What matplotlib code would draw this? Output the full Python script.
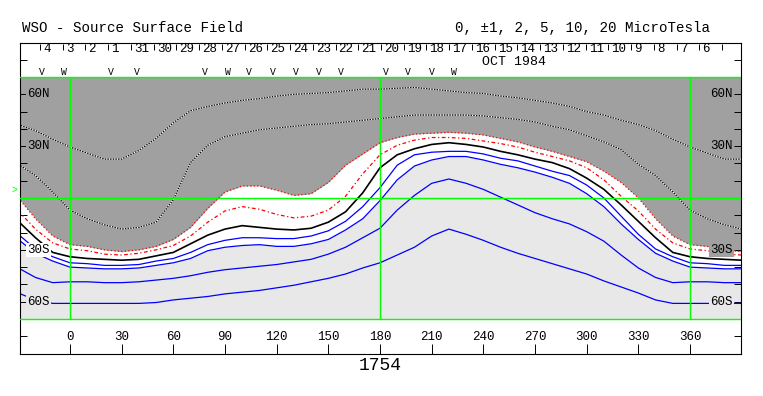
import numpy as np
import matplotlib.pyplot as plt

plt.rcParams['font.family'] = ['Liberation Mono', 'DejaVu Sans Mono']

# Carrington longitude samples (deg)
lon = np.arange(0, 360, 10)

lat_m10 = [29.5, 26, 22.5, 22.5, 27.5, 34.5, 43.5, 50.5, 53, 55, 56.5, 57.5, 59, 60, 60.5, 61, 62, 63,
           63, 63.5, 64, 63, 62, 61, 60.5, 59, 58, 56.5, 55, 53, 50, 48, 45, 42.5, 39, 34]
lat_m5 = [-7, -12, -15.5, -18, -17, -14, -1, 20.5, 30.5, 35.5, 37.5, 39.5, 40.5, 41.5, 42.5, 43, 44, 45,
          46, 47, 48, 48, 48, 48, 47.5, 46.5, 45.5, 44, 41.5, 39.5, 36, 32.5, 28, 19.5, 13, 3.5]
lat_m2 = [-27, -28, -30, -31, -30, -28, -24, -17, -6, 3.5, 7, 7, 4.5, 1.5, 2.5, 9, 19, 25.5,
          32, 35, 37, 37.5, 38, 37.5, 36.5, 34.5, 32.5, 29.5, 27, 24, 21, 15.5, 9, 0, -12, -22]
lat_m1 = [-29.5, -30.5, -32.5, -33, -32, -30, -27.5, -22, -14, -7.5, -5, -6.5, -9.5, -11.5, -10.5, -7, 1, 14,
          25, 30.5, 33.5, 35, 35, 34.5, 33, 31.5, 29.5, 26.5, 24, 21.5, 17.5, 10.5, 1, -7.5, -18, -26]
lat_0 = [-34, -35, -35.5, -36, -35.5, -33.5, -31.5, -26.5, -21.5, -18, -16, -17, -18, -18.5, -17.5, -14, -8, 3,
         17.5, 25, 28.5, 31, 32, 31, 29.5, 27, 25, 22.5, 20.5, 17, 11.5, 5, -4, -13.5, -23, -31.5]
lat_p1 = [-37.5, -38, -39, -39, -38.5, -36.5, -35, -31.5, -27, -24.5, -23, -23, -23.5, -23.5, -22, -19, -13.5, -5,
          6, 19, 25, 26.5, 27, 27, 25.5, 23, 21.5, 18.5, 15.5, 13, 7.5, 0, -10.5, -21, -29.5, -34]
lat_p2 = [-40, -40.5, -41, -41, -40.5, -39, -37.5, -35, -30.5, -28.5, -27.5, -27, -28, -28, -26.5, -24, -18.5, -12,
          -1.5, 10.5, 18.5, 22, 24, 24, 22, 19.5, 17.5, 15, 12, 8.5, 2.5, -5, -15, -24, -32, -36.5]
lat_p5 = [-48.5, -48.5, -49, -49, -48.5, -47.5, -46.5, -45, -43, -41.5, -40.5, -39.5, -38.5, -37, -35.5, -32.5, -28.5, -23,
          -17.5, -7, 1.5, 8.5, 11, 8.5, 5, 0.5, -4, -8.5, -12, -15, -19.5, -25, -33, -40.5, -46, -49]
lat_p10 = [-61, -61, -61, -61, -61, -60.5, -59, -58, -57, -55.5, -54.5, -53.5, -52, -50.5, -48.5, -46.5, -44, -40.5,
           -37.5, -33, -28.5, -22, -18, -21, -24.5, -28.5, -32, -35, -38, -41, -44, -48, -51.5, -55, -59, -61]

# dates along the top (Nov 4 ... Oct 6)
days = ['4', '3', '2', '1', '31', '30', '29', '28', '27', '26', '25', '24', '23', '22', '21',
        '20', '19', '18', '17', '16', '15', '14', '13', '12', '11', '10', '9', '8', '7', '6']
day_first = -17.4
day_step = 360 / 27.2753

# observation markers
obs_lon = [-16.3, -3.5, 23.8, 38.9, 78.4, 91.7, 103.9, 117.9, 131.2, 144.6, 157.4, 183.5, 196.3, 210.2, 223]
obs_mark = ['V', 'W', 'V', 'V', 'V', 'W', 'V', 'V', 'V', 'V', 'V', 'V', 'V', 'V', 'W']

xticks = list(range(0, 361, 30))
lat_labels = [60, 30, -30, -60]

DARK = '#a0a0a0'
LIGHT = '#e8e8e8'
GREEN = '#00ff00'


def wrap(v):
    v = np.asarray(v, float)
    return np.concatenate([v[-3:], v, v[:4]])


lon_w = np.concatenate([lon[-3:] - 360, lon, lon[:4] + 360])

fig = plt.figure(figsize=(7.63, 3.96), dpi=100)
ax = fig.add_axes([20 / 763, 42.5 / 396, 721 / 763, 311 / 396])
ax.set_xlim(-29, 389.6)
ax.set_ylim(-90, 90)
for s in ax.spines.values():
    s.set_linewidth(0.8)

ax.fill_between(lon_w, wrap(lat_m2), 70, color=DARK, lw=0, zorder=1)
ax.fill_between(lon_w, -70, wrap(lat_p2), color=LIGHT, lw=0, zorder=1)

for c in [lat_m10, lat_m5]:
    ax.plot(lon_w, wrap(c), color='black', lw=0.8, ls=(0, (1.2, 1.2)), gapcolor='white', zorder=2)
ax.plot(lon_w, wrap(lat_m2), color='red', lw=0.9, ls=(0, (1, 1.8)), zorder=2)
ax.plot(lon_w, wrap(lat_m1), color='red', lw=0.9, ls=(0, (3, 2, 1, 2)), zorder=2)
ax.plot(lon_w, wrap(lat_0), color='black', lw=1.2, zorder=2)
for c in [lat_p1, lat_p2, lat_p5, lat_p10]:
    ax.plot(lon_w, wrap(c), color='blue', lw=0.9, zorder=2)

# grid lines
for y in [70, 0, -70]:
    ax.axhline(y, color=GREEN, lw=1, zorder=3)
ax.vlines([0, 180, 360], -70, 70, color=GREEN, lw=1, zorder=3)

# axes ticks
ax.set_yticks(range(-80, 81, 10))
ax.tick_params(axis='y', left=True, right=True, direction='in', length=5, width=0.7,
               labelleft=False, labelright=False)
ax.set_xticks(xticks)
ax.tick_params(axis='x', bottom=True, top=False, direction='in', length=7, width=0.7,
               labelbottom=False)
for x in xticks:
    ax.text(x, -80.7, str(x), ha='center', va='center', fontsize=9)

for la in lat_labels:
    name = f"{abs(la)}{'N' if la > 0 else 'S'}"
    bgl = DARK if la > 0 else ('white' if la == -30 else LIGHT)
    bgr = DARK if la >= -30 else LIGHT
    ax.text(-24.6, la, name, ha='left', va='center', fontsize=9, zorder=4,
            bbox=dict(boxstyle='square,pad=0.1', fc=bgl, ec='none'))
    ax.text(384.8, la, name, ha='right', va='center', fontsize=9, zorder=4,
            bbox=dict(boxstyle='square,pad=0.1', fc=bgr, ec='none'))

ax.text(-30.5, 4.5, '>', color=GREEN, fontsize=7, ha='right', va='center', clip_on=False)

# date strip
edges = day_first + day_step * np.arange(len(days) + 1)
ax.vlines(edges, 85.5, 89, color='black', lw=0.7)
for e, d in zip(edges, days):
    ax.text(e + 1.8, 86.2, d, ha='left', va='center', fontsize=9)
ax.text(258, 78.7, 'OCT 1984', ha='center', va='center', fontsize=9.5)
for x, m in zip(obs_lon, obs_mark):
    ax.text(x, 73.2, m, ha='center', va='center', fontsize=7)

fig.text(22 / 763, 1 - 28 / 396, 'WSO - Source Surface Field', ha='left', va='center', fontsize=10.2)
fig.text(710 / 763, 1 - 28 / 396, '0, \u00b11, 2, 5, 10, 20 MicroTesla', ha='right', va='center', fontsize=10.2)
fig.text(380 / 763, 1 - 366 / 396, '1754', ha='center', va='center', fontsize=13)

fig.savefig('out.png', dpi=100)
